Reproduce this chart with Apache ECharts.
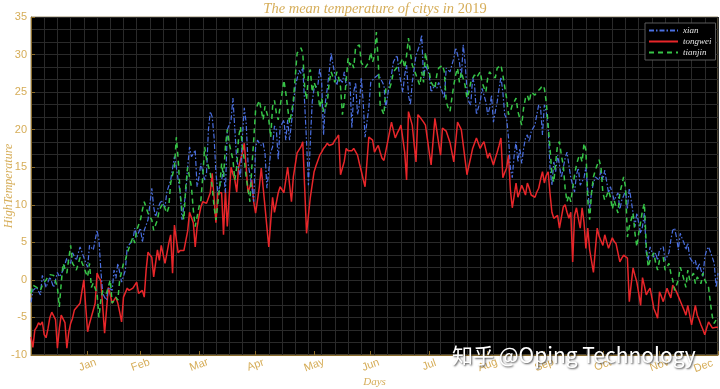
<!DOCTYPE html>
<html><head><meta charset="utf-8">
<script src="https://cdn.jsdelivr.net/npm/echarts@6/dist/echarts.min.js"></script>
<style>html,body{margin:0;padding:0;background:#fff}#c{width:720px;height:389px}</style>
</head><body><div id="c"></div>
<script>
const monthTicks=[31,59,90,120,151,181,212,243,273,304,334,365];
const monthLabels=['Jan','Feb','Mar','Apr','May','Jun','Jul','Aug','Sep','Oct','Nov','Dec'];
const seriesNames=['xian','tongwei','tianjin'];
const xian=[
-3.0,-1.4,-1.2,-1.0,-1.5,-2.0,0.6,-0.2,-1.0,-0.3,
0.4,-0.3,-1.0,0.0,1.0,0.4,0.8,1.3,2.1,2.9,
2.5,2.2,3.6,3.1,2.6,3.5,4.4,3.7,3.0,2.3,
1.7,4.6,4.3,4.0,5.3,6.6,5.3,1.3,-1.8,-2.3,
-2.7,-1.0,-1.2,-1.4,1.3,0.2,2.2,1.0,-0.3,0.5,
1.3,4.4,4.7,5.0,5.3,6.9,5.7,6.3,6.9,5.0,
6.6,7.3,8.0,10.1,12.2,9.7,8.4,9.3,10.0,10.6,
10.1,9.7,11.7,12.5,13.3,14.8,16.4,15.0,13.3,11.6,
8.0,9.8,11.6,15.0,17.7,16.4,16.8,17.3,12.4,13.7,
15.5,14.4,13.3,14.2,20.0,22.4,21.7,19.0,14.2,11.6,
12.4,13.3,14.6,11.6,20.0,20.6,21.3,24.2,20.0,16.0,
14.8,13.7,19.0,22.9,20.9,15.5,14.0,12.4,10.4,17.7,
18.6,18.2,17.9,18.2,16.8,12.2,14.6,17.0,17.7,20.5,
20.0,16.0,20.4,20.8,21.3,18.6,21.3,18.6,20.9,21.1,
25.7,26.8,27.9,27.5,28.3,23.5,18.4,12.6,18.4,23.7,
25.5,25.7,25.9,28.2,26.3,19.3,23.7,25.5,27.7,30.2,
28.7,27.3,25.9,27.0,26.6,26.3,27.7,25.9,26.1,26.3,
20.2,25.0,26.3,22.0,23.3,26.9,23.7,19.0,21.0,22.9,
26.3,26.6,26.9,27.1,27.3,26.9,26.4,25.9,22.9,24.6,
26.3,27.3,29.0,29.5,29.9,27.7,26.3,25.0,27.3,28.6,
24.6,23.3,26.3,28.1,29.9,30.6,31.3,32.6,26.9,28.6,
28.6,27.3,25.0,25.5,25.9,25.5,26.3,25.6,25.0,24.2,
28.2,28.4,27.7,28.6,29.5,30.9,30.0,29.0,26.9,31.3,
29.0,25.3,23.7,23.3,26.9,26.0,22.0,22.9,23.7,25.5,
24.6,23.7,22.0,22.9,24.6,21.0,22.4,23.7,25.5,27.0,
25.0,22.0,21.5,18.9,14.9,13.6,16.6,18.4,15.7,17.5,
15.5,17.5,18.9,19.3,18.4,19.7,20.2,20.6,22.0,23.3,
22.9,19.3,23.3,22.4,20.2,14.9,12.6,15.7,14.4,16.6,
15.3,13.6,14.9,16.2,17.0,15.3,13.6,12.6,11.7,14.0,
14.9,12.6,13.1,13.6,15.0,11.9,9.5,11.6,12.9,13.7,
13.5,13.3,14.6,13.3,14.6,13.1,11.6,12.4,11.5,10.6,
11.1,11.6,9.4,10.6,11.2,11.9,9.4,12.2,10.6,8.9,
7.1,8.9,7.5,6.2,7.1,8.9,3.6,2.6,4.4,3.7,
3.0,3.6,2.6,4.0,4.2,4.4,2.6,3.1,3.6,5.3,
6.6,6.9,5.7,4.0,6.2,5.5,4.9,4.0,4.9,3.0,
2.6,2.2,2.6,1.3,2.2,1.3,0.4,3.0,4.0,4.4,
3.7,3.0,2.2,-1.0,0.9];
const tongwei=[
-7.6,-9.0,-6.7,-6.3,-5.7,-6.0,-5.6,-7.3,-7.7,-6.5,
-5.0,-4.3,-4.8,-5.3,-9.1,-6.5,-4.7,-5.2,-5.7,-9.1,
-7.0,-5.8,-5.1,-4.0,-3.7,-3.4,-3.1,-1.5,0.0,-3.6,
-6.9,-5.8,-4.9,-4.0,-3.1,0.9,0.3,-0.1,-0.3,-7.1,
-4.0,-1.0,-2.0,-3.1,-2.7,-2.3,-3.1,-4.3,-5.6,-2.3,
-1.7,-1.1,-1.4,-1.2,-1.1,-0.7,-0.3,-1.8,-1.6,-1.4,
-2.3,1.3,3.7,3.3,3.0,0.4,2.2,4.0,2.6,4.6,
3.4,2.2,3.5,4.9,6.0,0.9,7.3,5.4,3.6,3.9,
3.9,3.9,3.9,6.5,9.0,8.3,7.6,4.4,7.0,8.5,
9.7,10.4,10.3,10.2,10.9,11.6,14.2,10.9,7.6,11.6,
11.6,11.6,6.0,12.0,7.1,11.0,15.0,14.1,13.3,11.7,
15.0,16.0,16.9,18.2,15.0,11.6,12.4,13.3,10.4,8.9,
10.6,12.4,14.9,12.3,9.7,7.0,4.4,7.7,11.0,9.0,
10.3,11.6,12.4,12.0,11.6,13.3,15.0,12.7,10.4,13.7,
15.3,16.9,17.3,17.7,18.4,12.3,6.2,8.6,11.0,12.7,
14.4,15.2,15.9,16.6,17.0,17.5,17.8,18.2,17.9,17.7,
18.1,18.6,18.9,19.3,14.0,14.0,15.8,17.5,17.2,17.0,
17.2,17.5,17.7,16.6,15.5,14.5,13.4,12.4,15.7,19.0,
18.8,18.6,17.0,17.5,17.9,17.0,16.2,15.9,15.7,18.4,
19.7,21.0,19.9,18.9,19.5,20.0,20.6,20.6,17.0,13.3,
22.4,21.5,20.6,18.1,15.7,22.0,21.7,21.5,21.0,20.6,
18.8,17.0,15.3,18.4,21.5,19.9,18.2,16.6,20.2,20.0,
19.8,19.7,18.3,17.0,15.7,18.3,21.0,20.5,20.0,18.0,
16.0,14.0,15.2,16.3,17.5,18.2,18.9,18.2,17.5,18.0,
18.4,17.3,16.2,16.9,16.1,15.3,16.2,17.0,17.9,18.9,
13.6,14.3,14.9,16.6,12.0,9.6,11.2,12.9,11.0,11.8,
12.6,12.0,11.3,12.9,12.2,11.3,11.5,11.0,11.7,12.2,
13.4,14.4,12.9,13.9,14.4,11.5,9.0,8.2,8.4,8.6,
6.9,8.3,9.7,10.0,9.0,8.2,9.0,2.4,8.6,9.6,
8.2,6.9,9.6,7.7,4.2,6.9,4.0,2.5,1.0,4.0,
6.9,5.8,5.2,4.6,6.0,5.1,4.2,4.9,5.6,5.1,
4.8,4.6,2.4,2.9,3.3,3.1,2.9,-2.9,-0.6,1.6,
0.6,-0.3,-1.8,-3.4,0.3,-0.8,-2.0,-1.5,-1.1,-2.4,
-3.8,-4.4,-5.1,-1.6,-2.2,-2.9,-2.0,-1.1,-1.8,-2.4,
-0.7,-1.1,-1.6,-2.2,-2.8,-3.4,-4.0,-4.7,-3.4,-4.7,
-6.0,-4.7,-3.4,-4.7,-5.3,-6.0,-6.6,-7.3,-6.4,-5.6,
-6.0,-6.4,-6.4,-6.3,-6.3];
const tianjin=[
-1.8,-0.7,-0.9,-1.0,-1.2,-1.4,-0.7,-0.3,0.0,0.4,
0.7,0.9,0.6,0.4,-1.0,-3.6,-0.5,2.2,1.5,0.9,
2.8,4.6,2.2,1.8,1.3,2.1,3.0,2.3,1.7,1.0,
0.4,2.2,-1.0,-0.4,-1.1,-1.8,-5.0,-2.7,-1.4,-1.6,
-1.8,-0.9,0.0,-3.1,-2.7,-2.3,-2.7,0.0,1.1,2.2,
2.6,3.6,4.3,5.0,5.7,4.9,6.6,7.3,8.0,9.3,
10.4,9.6,8.9,8.4,8.0,6.6,7.3,8.0,9.3,9.8,
10.2,9.5,8.9,9.7,12.9,14.0,15.0,19.0,16.0,11.6,
9.3,8.0,12.4,15.0,13.7,12.4,9.3,7.1,8.4,9.7,
10.6,13.7,17.7,16.0,15.1,14.2,12.4,9.7,8.0,10.2,
12.4,15.5,13.7,17.7,20.0,18.2,17.1,16.0,13.3,15.0,
19.0,20.4,17.7,16.0,13.7,12.0,10.4,15.0,18.6,22.6,
23.3,23.9,22.6,21.3,23.1,22.2,21.3,19.0,23.1,23.9,
22.2,21.3,23.1,24.8,26.6,24.9,22.9,20.9,22.2,23.9,
27.0,30.2,30.5,30.9,30.2,25.7,24.0,27.3,28.0,25.0,
26.3,25.6,25.0,22.9,24.2,22.4,23.0,23.7,26.3,27.7,
27.0,26.3,27.7,26.9,25.7,22.0,23.7,26.6,29.5,28.6,
29.0,28.2,31.0,31.1,31.3,28.9,28.6,28.2,28.6,29.0,
30.3,29.0,29.9,33.0,29.0,23.3,22.6,22.0,25.5,25.5,
25.5,26.3,27.7,28.0,28.2,28.6,29.0,29.5,28.2,29.9,
32.2,30.3,28.6,28.0,27.3,26.6,25.9,27.7,26.3,30.3,
28.6,27.7,26.3,25.9,25.5,27.3,28.2,28.4,28.6,27.7,
23.7,22.9,22.4,24.2,25.9,27.3,28.2,26.3,27.7,26.8,
25.9,24.2,25.0,26.3,26.8,27.3,26.9,27.3,27.7,26.3,
25.6,25.0,26.9,27.7,27.3,27.1,26.9,28.2,28.4,28.6,
27.3,25.7,24.2,22.0,22.4,23.3,23.7,24.2,22.4,21.5,
20.6,22.9,24.2,24.6,23.7,25.0,24.8,24.6,25.0,25.2,
25.5,25.9,25.5,23.7,20.6,17.5,14.0,13.0,15.7,18.0,
18.4,16.6,15.3,12.2,10.4,11.3,10.4,12.2,14.0,15.3,
16.2,16.6,15.7,18.2,17.3,10.6,8.0,11.6,13.7,14.6,
15.3,16.0,15.0,11.6,10.6,11.2,11.9,11.0,9.4,10.6,
9.7,8.9,11.6,12.6,13.7,12.4,5.7,7.1,8.0,8.9,
6.2,4.4,6.2,7.7,9.3,10.2,4.4,1.7,2.6,3.1,
3.6,2.2,1.3,2.6,2.8,3.0,1.3,1.7,2.2,0.9,
0.0,-1.4,-0.7,0.0,1.7,0.9,0.0,-1.0,1.3,0.0,
0.4,0.9,-0.5,0.4,0.0,-0.5,0.9,0.0,-0.5,-1.0,
-3.1,-4.9,-5.8,-5.3,-4.9];

const gold='#d6ad58';
const axisCol='#8c6d2c';
const gridCol='#2a2a2a';
function pairs(arr){return arr.map(function(v,i){return [i+1,v];});}
const chart=echarts.init(document.getElementById('c'),null,{renderer:'canvas'});
chart.setOption({
  animation:false,
  backgroundColor:'#ffffff',
  grid:{left:31,right:2,top:17,bottom:34,containLabel:false,outerBoundsMode:'none',
    show:true,backgroundColor:'#000000',borderColor:'#9a8c66',borderWidth:1},
  xAxis:[{
    type:'value',min:1,max:365,position:'bottom',
    name:'Days',nameLocation:'middle',nameGap:22,nameMoveOverlap:false,
    nameTextStyle:{color:gold,fontFamily:'Liberation Serif',fontStyle:'italic',fontSize:11},
    axisLine:{show:true,onZero:false,lineStyle:{color:axisCol,width:1}},
    axisTick:{show:true,inside:true,length:4,customValues:monthTicks,lineStyle:{color:axisCol}},
    axisLabel:{show:true,customValues:monthTicks,rotate:20,align:'center',verticalAlign:'middle',
      color:gold,fontSize:11,fontFamily:'Liberation Sans',margin:10,hideOverlap:false,
      formatter:function(v){var i=monthTicks.indexOf(Math.round(v));if(i<0)return '';return i===11?'{d|'+monthLabels[i]+'}':monthLabels[i];},
      rich:{d:{color:gold,fontSize:11,fontFamily:'Liberation Sans',padding:[0,28,8,0]}}},
    splitLine:{show:false}
  },{
    type:'value',min:0,max:364,interval:7,position:'bottom',
    axisLine:{show:false},axisTick:{show:false},axisLabel:{show:false},
    splitLine:{show:true,lineStyle:{color:gridCol,width:1}}
  }],
  yAxis:{
    type:'value',min:-10,max:35,interval:5,
    name:'HighTemperature',nameLocation:'middle',nameGap:16,nameRotate:90,nameMoveOverlap:false,
    nameTextStyle:{color:gold,fontFamily:'Liberation Serif',fontStyle:'italic',fontSize:12},
    axisLine:{show:true,onZero:false,lineStyle:{color:axisCol,width:1}},
    axisTick:{show:true,inside:true,length:4,lineStyle:{color:axisCol}},
    axisLabel:{color:gold,fontSize:11,fontFamily:'Liberation Sans',margin:4},
    splitLine:{show:true,lineStyle:{color:gridCol,width:1}},
    minorTick:{show:false,splitNumber:3},
    minorSplitLine:{show:true,lineStyle:{color:gridCol,width:1}}
  },
  legend:{
    data:seriesNames,orient:'vertical',left:645,top:23,
    itemWidth:29,itemHeight:8,itemGap:2,padding:[3,4,3,3],
    backgroundColor:'#000000',borderColor:'#5a5a5a',borderWidth:1,
    itemStyle:{opacity:0},
    textStyle:{color:'#e6e6e6',fontFamily:'Liberation Serif',fontStyle:'italic',fontSize:9}
  },
  series:[
    {name:seriesNames[0],type:'line',data:pairs(xian),symbol:'none',showSymbol:false,
      lineStyle:{color:'#4a6fe0',width:1.2,type:[5,2,1.5,2]},itemStyle:{color:'#4a6fe0'},z:3},
    {name:seriesNames[1],type:'line',data:pairs(tongwei),symbol:'none',showSymbol:false,
      lineStyle:{color:'#e8262a',width:1.5,type:'solid'},itemStyle:{color:'#e8262a'},z:2},
    {name:seriesNames[2],type:'line',data:pairs(tianjin),symbol:'none',showSymbol:false,
      lineStyle:{color:'#36c447',width:1.5,type:[5,4]},itemStyle:{color:'#36c447'},z:4}
  ],
  graphic:[
    {type:'text',x:375,y:9,z:50,style:{
      text:'{i|The mean temperature of citys in }{n|2019}',
      align:'center',verticalAlign:'middle',fill:gold,
      rich:{i:{fontFamily:'Liberation Serif',fontStyle:'italic',fontSize:14.5,fill:gold,color:gold},
            n:{fontFamily:'Liberation Serif',fontSize:14.5,fill:gold,color:gold}}}},
    {type:'text',x:452,y:355,z:100,style:{
      text:'知乎 @Oping Technology',fontFamily:'Noto Sans CJK SC',fontSize:21,
      fill:'#ffffff',verticalAlign:'middle',align:'left',
      textShadowColor:'rgba(0,0,0,0.7)',textShadowBlur:2,textShadowOffsetX:1,textShadowOffsetY:1}}
  ]
});
</script></body></html>
